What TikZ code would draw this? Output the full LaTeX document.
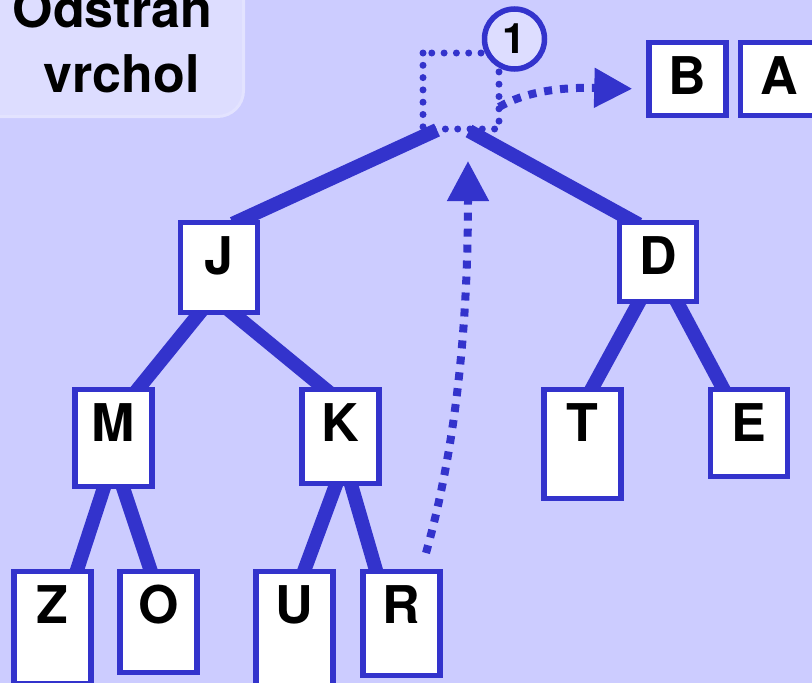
\documentclass[tikz,border=0pt]{standalone}
\usepackage{fontspec}
\setmainfont{texgyreheros}[Extension=.otf,UprightFont=*-regular,BoldFont=*-bold]
\usetikzlibrary{arrows.meta,calc}
\pgfdeclarelayer{bg}
\pgfdeclarelayer{edges}
\pgfsetlayers{bg,edges,main}
\definecolor{bgc}{HTML}{CCCCFF}
\definecolor{bl}{HTML}{3333CC}
\definecolor{lite}{HTML}{DDDDFF}
\definecolor{liteb}{HTML}{E3E3FF}
\begin{document}
\begin{tikzpicture}[x=1pt,y=-1pt,
  tbox/.style={draw=bl,line width=5.5pt,fill=white,inner sep=0pt,minimum width=77pt,
    text height=52.5pt,font=\fontsize{52}{60}\selectfont\bfseries,anchor=north},
  edge/.style={draw=bl,line width=14pt},
  inedge/.style={edge,shorten <=-10pt,shorten >=-10pt},
  dotsq/.style={draw=bl,line width=7pt,line cap=round,dash pattern=on 0pt off 12.3pt},
  mvB/.style={draw=bl,line width=8pt,dash pattern=on 8pt off 8pt,-{Triangle[length=38pt,width=38pt]}},
  mvR/.style={draw=bl,line width=8pt,dash pattern=on 8pt off 8pt,-{Triangle[length=40pt,width=40pt]}},
  ttl/.style={anchor=base,inner sep=0pt,font=\fontsize{52}{60}\selectfont\bfseries}
]
\useasboundingbox (0,0) rectangle (812,683);
\begin{pgfonlayer}{bg}
\fill[bgc] (0,0) rectangle (812,683);
\end{pgfonlayer}

% title box
\draw[fill=lite,draw=liteb,line width=3pt,rounded corners=26pt] (-40,-40) rectangle (243.5,116.5);
\node[ttl] (t1) at (112.5,27) {Odstraň};
\node[ttl] (t2) at (121.5,92) {vrchol};

% removed root outline
\draw[dotsq] (423,53) rectangle (499,129);
\node[circle,draw=bl,line width=5.5pt,fill=lite,minimum size=60pt,inner sep=0pt,
  font=\fontsize{42}{46}\selectfont\bfseries] (one) at (514.5,39) {1};

% output boxes
\node[tbox,text depth=20.5pt] (B) at (687.5,39.5) {B};
\node[tbox,text depth=20.5pt] (A) at (779,39.5) {A};

% tree nodes
\node[tbox,text depth=37.5pt] (J) at (219,219.5) {J};
\node[tbox,text depth=26.5pt] (D) at (658,219.5) {D};
\node[tbox,text depth=44.5pt] (M) at (113.5,386.5) {M};
\node[tbox,text depth=41.5pt] (K) at (340.5,386.5) {K};
\node[tbox,text depth=56.5pt] (T) at (582.5,386.5) {T};
\node[tbox,text depth=34.5pt] (E) at (749,386.5) {E};
\node[tbox,text depth=60pt] (Z) at (52.5,568.5) {Z};
\node[tbox,text depth=48.5pt] (O) at (158.5,568.5) {O};
\node[tbox,text depth=69pt] (U) at (294.5,568.5) {U};
\node[tbox,text depth=51.5pt] (R) at (401.5,568.5) {R};

\coordinate (rl) at (437,130);
\coordinate (rr) at (469,131);
\coordinate (hole) at (468,161);

\begin{pgfonlayer}{edges}
\draw[edge,shorten >=-10pt] (rl) -- ([xshift=23pt]J.north);
\draw[edge,shorten >=-10pt] (rr) -- ([xshift=-28pt]D.north);
\draw[inedge] ([xshift=-21pt]J.south) -- ([xshift=26.5pt]M.north);
\draw[inedge] ([xshift=16pt]J.south) -- ([xshift=-18.5pt]K.north);
\draw[inedge] ([xshift=-10pt]M.south) -- ([xshift=25pt]Z.north);
\draw[inedge] ([xshift=10pt]M.south) -- ([xshift=-8.5pt]O.north);
\draw[inedge] ([xshift=-5pt]K.south) -- ([xshift=10.5pt]U.north);
\draw[inedge] ([xshift=11pt]K.south) -- ([xshift=-26pt]R.north);
\draw[inedge] ([xshift=-20pt]D.south) -- ([xshift=10.5pt]T.north);
\draw[inedge] ([xshift=20pt]D.south) -- ([xshift=-27pt]E.north);
\end{pgfonlayer}

% moves
\draw[mvB] (499,107) .. controls (525,92) and (560,87) .. ($(B.west)+(-14,10)$);
\draw[mvR] ($(R.north)+(24.5,-15.5)$) .. controls (455,450) and (468,330) .. (hole);
\end{tikzpicture}
\end{document}
